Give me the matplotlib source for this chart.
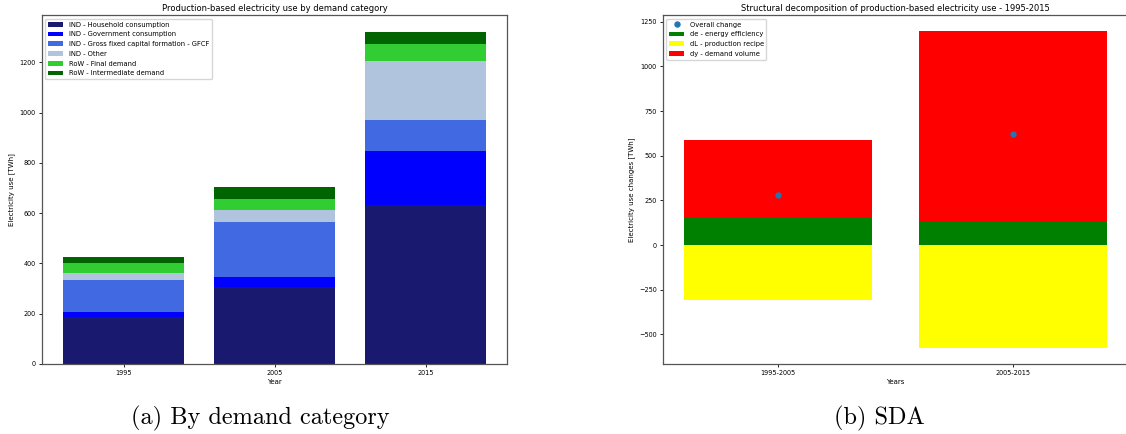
import matplotlib
matplotlib.use('Agg')
import matplotlib.pyplot as plt
import numpy as np

# demand-category breakdown (TWh)
years = ["1995", "2005", "2015"]
household = [185, 306, 632]
government = [20, 41, 216]
gfcf = [129, 217, 122]
ind_other = [26, 48, 234]
row_final = [40, 45, 68]
row_intermediate = [25, 48, 48]

category_labels = [
    "IND - Household consumption",
    "IND - Government consumption",
    "IND - Gross fixed capital formation - GFCF",
    "IND - Other",
    "RoW - Final demand",
    "RoW - Intermediate demand",
]
category_colors = ["midnightblue", "blue", "royalblue", "lightsteelblue",
                   "limegreen", "darkgreen"]

# structural decomposition (TWh)
periods = ["1995-2005", "2005-2015"]
de = [153, 131]
dL = [-306, -577]
dy = [435, 1065]

tick_fs = 4.7
label_fs = 5.0
title_fs = 6.0
legend_fs = 4.9

fig = plt.figure(figsize=(11.26, 4.34), dpi=100)
ax1 = fig.add_axes([0.0373, 0.1613, 0.4134, 0.803])
ax2 = fig.add_axes([0.5888, 0.1613, 0.4130, 0.803])

# (a) stacked bars by demand category
x = np.arange(len(years))
bottom = np.zeros(len(years))
for vals, lab, col in zip(
        [household, government, gfcf, ind_other, row_final, row_intermediate],
        category_labels, category_colors):
    ax1.bar(x, vals, bottom=bottom, color=col, label=lab, width=0.8)
    bottom += np.array(vals)
ax1.set_xticks(x)
ax1.set_xticklabels(years)
ax1.set_xlabel("Year", fontsize=label_fs, labelpad=2)
ax1.set_ylabel("Electricity use [TWh]", fontsize=label_fs, labelpad=3)
ax1.set_title("Production-based electricity use by demand category",
              fontsize=title_fs, pad=3)
ax1.legend(loc="upper left", fontsize=legend_fs, handlelength=2.2,
           labelspacing=0.55)

# (b) SDA
xp = np.arange(len(periods))
overall = np.array(de) + np.array(dL) + np.array(dy)
ax2.plot(xp, overall, "o", color="tab:blue", markersize=3.6,
         label="Overall change")
ax2.bar(xp, de, color="green", label="de - energy efficiency", width=0.8)
ax2.bar(xp, dL, color="yellow", label="dL - production recipe", width=0.8)
ax2.bar(xp, dy, bottom=de, color="red", label="dy - demand volume", width=0.8)
ax2.set_xticks(xp)
ax2.set_xticklabels(periods)
ax2.set_xlabel("Years", fontsize=label_fs, labelpad=2)
ax2.set_ylabel("Electricity use changes [TWh]", fontsize=label_fs, labelpad=3)
ax2.set_title("Structural decomposition of production-based electricity use - 1995-2015",
              fontsize=title_fs, pad=3)
ax2.legend(loc="upper left", fontsize=legend_fs, handlelength=2.2,
           labelspacing=0.55)

for ax in (ax1, ax2):
    ax.tick_params(labelsize=tick_fs, length=2.5, width=0.6, pad=2)
    for sp in ax.spines.values():
        sp.set_linewidth(0.9)
        sp.set_color("#555555")

# subfigure captions
fig.text(0.231, 0.037, "(a) By demand category", family="cmr10",
         fontsize=17.5, ha="center", va="center")
fig.text(0.781, 0.037, "(b) SDA", family="cmr10",
         fontsize=17.5, ha="center", va="center")

fig.savefig("out.png", dpi=100)
